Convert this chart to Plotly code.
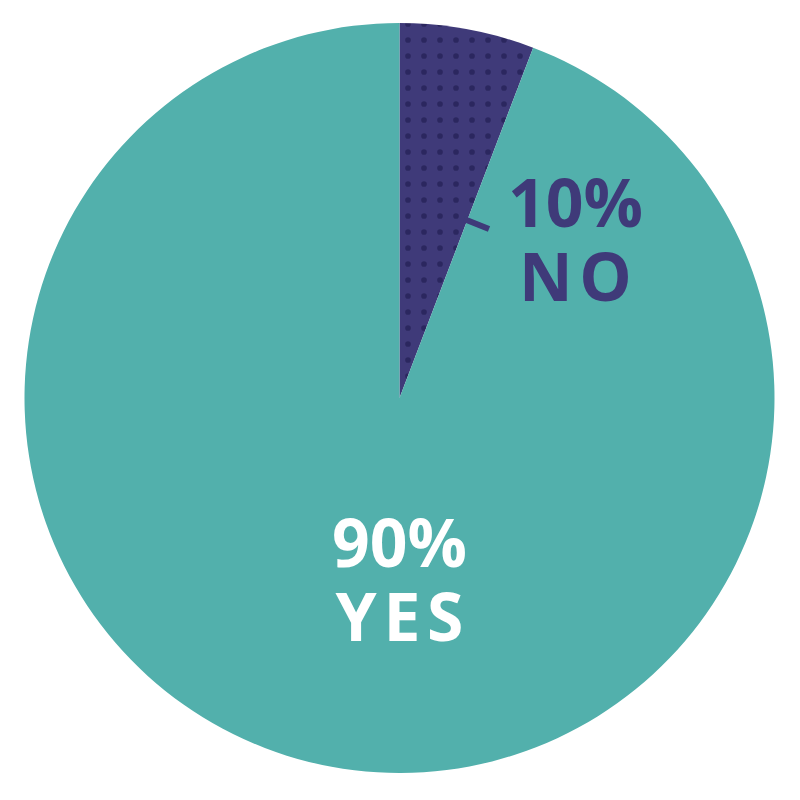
import plotly.graph_objects as go

# Data
categories = ["NO", "YES"]
slice_values = [5.8, 94.2]          # slice sizes as drawn in the picture
percent_labels = ["10%", "90%"]     # printed labels
colors = ["#3f3a79", "#52b0ac"]

W, H = 800, 800
L, R, T, B = 24, 25, 23, 27
pw, ph = W - L - R, H - T - B

def px(x):
    return (x - L) / pw

def py(y):
    return 1 - (y - T) / ph

fig = go.Figure()
fig.add_trace(go.Pie(
    labels=categories,
    values=slice_values,
    sort=False,
    direction="clockwise",
    rotation=0,
    textinfo="none",
    hoverinfo="label+percent",
    marker=dict(
        colors=colors,
        line=dict(width=0),
        pattern=dict(shape=[".", ""], fgcolor="#2b275f", bgcolor=colors[0],
                     size=16, solidity=0.1),
    ),
    showlegend=False,
))

def two_line(a, b):
    s = "<span style='font-size:66px'>{}</span>"
    return s.format(a) + "<br>" + s.format(b)

font_purple = dict(family="Open Sans", size=57, color="#3f3a79", weight="bold")
font_white = dict(family="Open Sans", size=57, color="#ffffff", weight="bold")

sp = "\u200a"
ann = [
    dict(text=two_line(percent_labels[0], sp.join(categories[0])),
         x=px(575), y=py(238), font=font_purple),
    dict(text=two_line(percent_labels[1], sp.join(categories[1])),
         x=px(399), y=py(578), font=font_white),
]
for a in ann:
    fig.add_annotation(xref="paper", yref="paper", showarrow=False,
                       xanchor="center", yanchor="middle", align="center", **a)

fig.add_shape(type="line", xref="paper", yref="paper",
              x0=px(464), y0=py(219), x1=px(489), y1=py(229),
              line=dict(color="#3f3a79", width=6))

fig.update_layout(
    width=W, height=H,
    margin=dict(l=L, r=R, t=T, b=B),
    paper_bgcolor="white",
    plot_bgcolor="white",
)

fig.write_html("out.html")
